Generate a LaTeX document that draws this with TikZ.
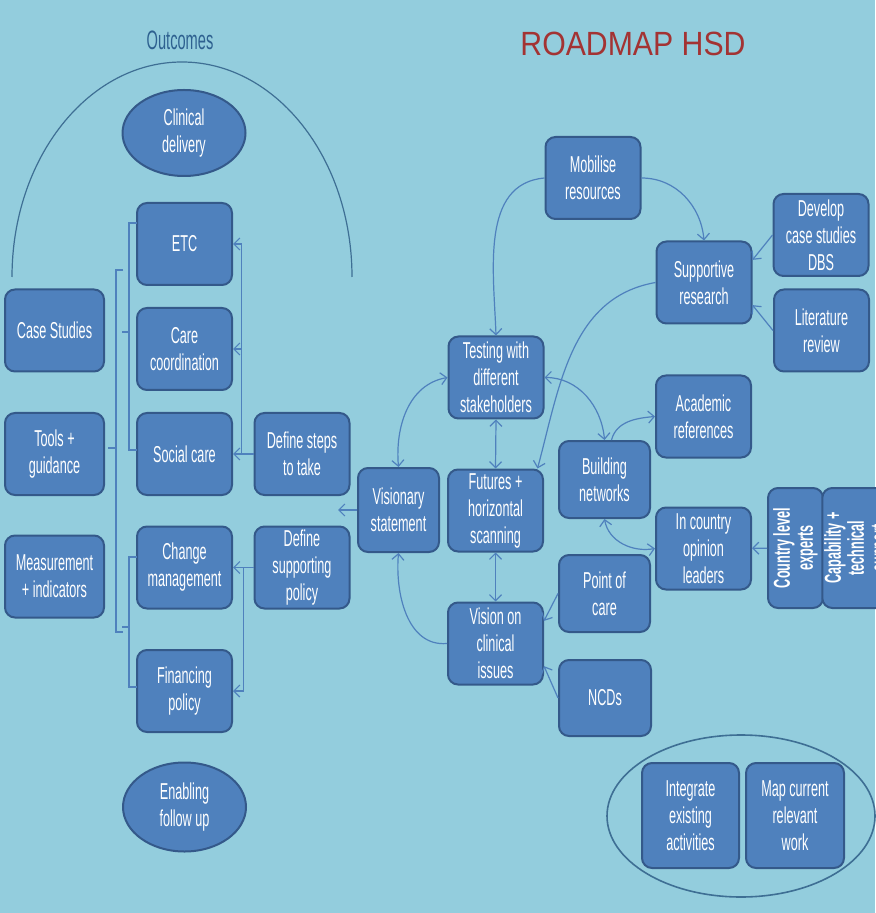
\documentclass[tikz,border=0pt]{standalone}
\usepackage{fontspec}
\setmainfont{Liberation Sans}[FakeStretch=0.55]
\newfontfamily\titlefont{Liberation Sans}[FakeStretch=0.9]
\usetikzlibrary{shapes.geometric, arrows.meta}
\definecolor{bgblue}{HTML}{93CDDD}
\definecolor{boxfill}{HTML}{4F81BD}
\definecolor{boxline}{HTML}{34598A}
\definecolor{linkblue}{HTML}{4F81BD}
\definecolor{arcblue}{HTML}{3E6F94}
\definecolor{titlered}{HTML}{A33333}
\definecolor{headblue}{HTML}{2E6190}

\begin{document}
\begin{tikzpicture}[x=0.5pt, y=0.5pt,
            box/.style={draw=boxline, fill=boxfill, line width=1pt, rounded corners=5pt, text=white, align=center, inner sep=1pt,
                        font=\fontsize{11.5}{13.5}\selectfont, minimum width=47.5pt, minimum height=41pt},
            oval/.style={box, ellipse, sharp corners, minimum width=61.5pt, minimum height=43pt},
            conn/.style={draw=linkblue, line width=0.6pt, -{Straight Barb[length=3pt,width=6pt]}},
            both/.style={conn, {Straight Barb[length=3pt,width=6pt]}-{Straight Barb[length=3pt,width=6pt]}},
            brk/.style={draw=linkblue, line width=0.6pt}]

            \fill[bgblue] (0,0) rectangle (875,-913);
            \useasboundingbox (0,0) rectangle (875,-913);

            \node[text=headblue, font=\fontsize{13.3}{16}\selectfont] (outcomes) at (180,-40) {Outcomes};
            \node[text=titlered, font=\titlefont\fontsize{16.8}{20}\selectfont] (title) at (633,-44) {ROADMAP HSD};
            \draw[draw=arcblue, line width=0.6pt] (12,-277) arc[start angle=180, end angle=0, x radius=170, y radius=215];

            % outcomes column
            \node[oval] (clinic) at (184,-133) {Clinical\\delivery};
            \node[box] (etc) at (184.5,-244) {ETC};
            \node[box] (care) at (184.5,-349) {Care\\coordination};
            \node[box] (social) at (184.5,-454) {Social care};
            \node[box] (change) at (184.5,-567.5) {Change\\management};
            \node[box] (finance) at (184.5,-691) {Financing\\policy};
            \node[oval, minimum height=44.5pt] (enable) at (184.5,-807) {Enabling\\follow up};

            \node[box, minimum width=49.5pt] (cases) at (54.5,-330.5) {Case Studies};
            \node[box, minimum width=49.5pt] (tools) at (54.5,-454) {Tools +\\guidance};
            \node[box, minimum width=49.5pt] (measure) at (54.5,-576.5) {Measurement\\+ indicators};

            \node[box] (steps) at (302,-454) {Define steps\\to take};
            \node[box] (policy) at (302,-567.5) {Define\\supporting\\policy};
            \node[box, minimum width=40.5pt, minimum height=42pt] (vision) at (398.5,-510) {Visionary\\statement};

            % centre and right
            \node[box] (testing) at (496,-377.5) {Testing with\\different\\stakeholders};
            \node[box] (futures) at (495.5,-510.5) {Futures +\\horizontal\\scanning};
            \node[box] (issues) at (495.5,-643.5) {Vision on\\clinical\\issues};
            \node[box, minimum width=45.5pt, minimum height=38.5pt] (network) at (604.5,-479.5) {Building\\networks};
            \node[box, minimum width=45.5pt, minimum height=38.5pt] (point) at (604.5,-593.5) {Point of\\care};
            \node[box, minimum width=46pt, minimum height=38pt] (ncd) at (605,-698) {NCDs};
            \node[box] (academic) at (703.5,-416.5) {Academic\\references};
            \node[box] (leaders) at (703.5,-548.5) {In country\\opinion\\leaders};
            \node[box] (mobilise) at (593,-178) {Mobilise\\resources};
            \node[box] (research) at (704,-282.5) {Supportive\\research};
            \node[box] (develop) at (821,-235) {Develop\\case studies\\DBS};
            \node[box] (review) at (821.5,-330.5) {Literature\\review};
            \node[box, rotate=90, minimum width=60pt, minimum height=27.5pt, font=\bfseries\fontsize{11.5}{11.5}\selectfont] (experts) at (795.5,-548) {Country level\\experts};
            \node[box, rotate=90, minimum width=60pt, minimum height=35pt, font=\bfseries\fontsize{11.5}{11.5}\selectfont] (capab) at (858,-548) {Capability +\\technical\\support};

            \node[box, minimum width=48.5pt, minimum height=52.5pt] (integrate) at (690.5,-815.5) {Integrate\\existing\\activities};
            \node[box, minimum width=49pt, minimum height=52.5pt] (mapwork) at (795,-815.5) {Map current\\relevant\\work};
            \draw[draw=arcblue, line width=0.8pt] (741,-816) ellipse [x radius=134, y radius=81];

            % brackets
            \draw[brk] (137,-223) -- (129,-223) -- (129,-450) -- (137,-450);
            \draw[brk] (129,-332) -- (122,-332);
            \draw[brk] (123,-270) -- (116,-270) -- (116,-632) -- (123,-632);
            \draw[brk] (116,-448) -- (108,-448);
            \draw[brk] (137,-557) -- (129,-557) -- (129,-687) -- (137,-687);
            \draw[brk] (129,-627) -- (122,-627);

            % links
            \draw[conn] (steps.west) -- ++(-12,0) |- (etc.east);
            \draw[conn] (steps.west) -- ++(-12,0) |- (care.east);
            \draw[conn] (steps.west) -- (social.east);
            \draw[conn] (policy.west) -- (change.east);
            \draw[conn] (policy.west) -- ++(-10,0) |- (finance.east);
            \coordinate (vtip) at (338,-510);
            \draw[conn] (vision.west) -- (vtip);

            \draw[conn] (mobilise.west) to[out=185, in=92] (testing.north);
            \draw[conn] (mobilise.east) to[out=0, in=95] (research.north);
            \draw[conn] (research.west) to[out=190, in=75] (futures.45);
            \draw[conn] (develop.west) -- (research.25);
            \draw[conn] (review.west) -- (research.335);
            \draw[both] (testing.west) to[out=190, in=95] (vision.north);
            \draw[both] (testing.south) -- (futures.north);
            \draw[both] (futures.south) -- (issues.north);
            \draw[conn] (issues.west) to[out=185, in=-95] (vision.south);
            \draw[both] (testing.east) to[out=0, in=95] (network.north);
            \draw[conn] (network.80) to[out=75, in=185] (academic.west);
            \draw[both] (network.south) to[out=-80, in=190] (leaders.west);
            \draw[conn] (experts) -- (leaders);
            \draw[conn] (point.west) -- (issues.25);
            \draw[conn] (ncd.west) -- (issues.335);
        \end{tikzpicture}
\end{document}
